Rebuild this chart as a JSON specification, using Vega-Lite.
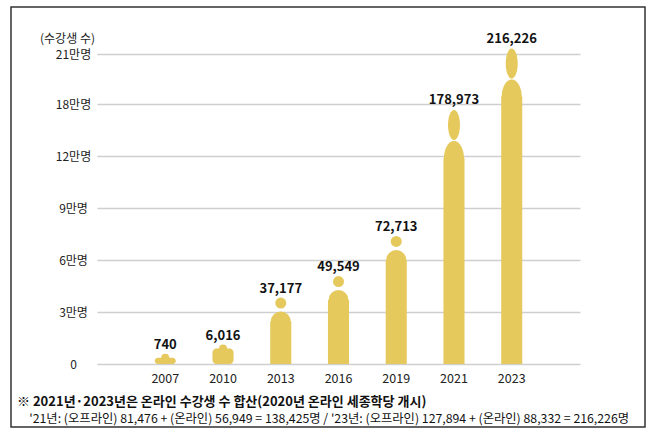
{
  "$schema": "https://vega.github.io/schema/vega-lite/v6.json",
  "width": 634,
  "height": 420,
  "autosize": "none",
  "padding": {"left": 11, "top": 7, "right": 13, "bottom": 9},
  "background": "white",
  "config": {
    "view": {"stroke": "#333333", "strokeWidth": 1.5},
    "font": "Noto Sans CJK KR"
  },
  "title": {
    "text": "※ 2021년·2023년은 온라인 수강생 수 합산(2020년 온라인 세종학당 개시)",
    "subtitle": "\u200b\u3000'21년: (오프라인) 81,476 + (온라인) 56,949 = 138,425명 / '23년: (오프라인) 127,894 + (온라인) 88,332 = 216,226명",
    "orient": "bottom",
    "anchor": "start",
    "frame": "group",
    "offset": -31,
    "dx": 6,
    "font": "Noto Sans CJK KR",
    "fontSize": 13,
    "fontWeight": "bold",
    "color": "#111111",
    "subtitleFont": "Noto Sans CJK KR",
    "subtitleFontSize": 12.3,
    "subtitleColor": "#111111",
    "subtitlePadding": 4
  },
  "data": {
    "values": [
      {"year": "2007", "value": 740},
      {"year": "2010", "value": 6016},
      {"year": "2013", "value": 37177},
      {"year": "2016", "value": 49549},
      {"year": "2019", "value": 72713},
      {"year": "2021", "value": 178973},
      {"year": "2023", "value": 216226}
    ]
  },
  "encoding": {
    "x": {
      "field": "year",
      "type": "ordinal",
      "sort": null,
      "scale": {"range": [86, 569], "paddingInner": 0.635, "paddingOuter": 1.22},
      "axis": {
        "title": null,
        "labelAngle": 0,
        "offset": -63,
        "domain": false,
        "ticks": false,
        "tickSize": 0,
        "labelPadding": 8,
        "labelFontSize": 12.5,
        "labelColor": "#222222",
        "labelFont": "Noto Sans CJK KR",
        "grid": false
      }
    },
    "y": {
      "field": "value",
      "type": "quantitative",
      "scale": {"domain": [0, 120000, 180000, 240000], "range": [357, 149, 97, -3], "nice": false, "zero": false},
      "axis": {
        "values": [0, 30000, 60000, 90000, 120000, 180000, 210000],
        "labelExpr": "datum.value == 0 ? '0' : (datum.value / 10000) + '만명'",
        "offset": -70,
        "domain": false,
        "ticks": false,
        "tickSize": 0,
        "labelPadding": 8,
        "labelAlign": "center",
        "labelBaseline": "middle",
        "labelFontSize": 12,
        "labelColor": "#222222",
        "labelFont": "Noto Sans CJK KR",
        "grid": true,
        "gridColor": "#cfcfcf",
        "gridWidth": 1.4,
        "title": "(수강생 수)",
        "titleAngle": 0,
        "titleX": -14,
        "titleY": 31,
        "titleAlign": "center",
        "titleBaseline": "middle",
        "titleFont": "Noto Sans CJK KR",
        "titleFontSize": 12,
        "titleFontWeight": "normal",
        "titleColor": "#222222"
      }
    }
  },
  "layer": [
    {
      "transform": [{"filter": "datum.value < 30000"}],
      "mark": {"type": "bar", "color": "#E6C95C", "yOffset": -5, "y2Offset": 0.001, "cornerRadiusEnd": 4},
      "encoding": {"y2": {"datum": 0}}
    },
    {
      "transform": [{"filter": "datum.value < 30000"}],
      "mark": {"type": "point", "filled": true, "opacity": 1, "strokeWidth": 0, "color": "#E6C95C", "size": 64, "yOffset": -5, "shape": "circle"}
    },
    {
      "transform": [{"filter": "datum.value < 30000"}],
      "mark": {"type": "text", "dy": -18, "baseline": "middle", "fontSize": 13, "fontWeight": "bold", "color": "#111111", "font": "Noto Sans CJK KR"},
      "encoding": {"text": {"field": "value", "type": "quantitative", "format": ",d"}}
    },
    {
      "transform": [{"filter": "datum.value >= 30000 && datum.value < 150000"}],
      "mark": {"type": "bar", "color": "#E6C95C", "yOffset": 22, "y2Offset": 0.001},
      "encoding": {"y2": {"datum": 0}}
    },
    {
      "transform": [{"filter": "datum.value >= 30000 && datum.value < 150000"}],
      "mark": {"type": "point", "filled": true, "opacity": 1, "strokeWidth": 0, "color": "#E6C95C", "size": 400, "yOffset": 22, "shape": "circle"}
    },
    {
      "transform": [{"filter": "datum.value >= 30000 && datum.value < 150000"}],
      "mark": {"type": "point", "filled": true, "opacity": 1, "strokeWidth": 0, "color": "#E6C95C", "size": 121, "yOffset": 3.5, "shape": "circle"}
    },
    {
      "transform": [{"filter": "datum.value >= 30000 && datum.value < 150000"}],
      "mark": {"type": "text", "dy": -11, "baseline": "middle", "fontSize": 13, "fontWeight": "bold", "color": "#111111", "font": "Noto Sans CJK KR"},
      "encoding": {"text": {"field": "value", "type": "quantitative", "format": ",d"}}
    },
    {
      "transform": [{"filter": "datum.value >= 150000"}],
      "mark": {"type": "bar", "color": "#E6C95C", "yOffset": 53, "y2Offset": 0.001},
      "encoding": {"y2": {"datum": 0}}
    },
    {
      "transform": [{"filter": "datum.value >= 150000"}],
      "mark": {"type": "point", "filled": true, "opacity": 1, "strokeWidth": 0, "color": "#E6C95C", "size": 400, "yOffset": 53, "shape": "M-1,0 A1,1.7 0 1,1 1,0 A1,1.7 0 1,1 -1,0 Z"}
    },
    {
      "transform": [{"filter": "datum.value >= 150000"}],
      "mark": {"type": "point", "filled": true, "opacity": 1, "strokeWidth": 0, "color": "#E6C95C", "size": 900, "yOffset": 20, "shape": "M0,-1 A0.4,1 0 1,1 0,1 A0.4,1 0 1,1 0,-1 Z"}
    },
    {
      "transform": [{"filter": "datum.value >= 150000"}],
      "mark": {"type": "text", "dy": -5, "baseline": "middle", "fontSize": 13, "fontWeight": "bold", "color": "#111111", "font": "Noto Sans CJK KR"},
      "encoding": {"text": {"field": "value", "type": "quantitative", "format": ",d"}}
    }
  ]
}
